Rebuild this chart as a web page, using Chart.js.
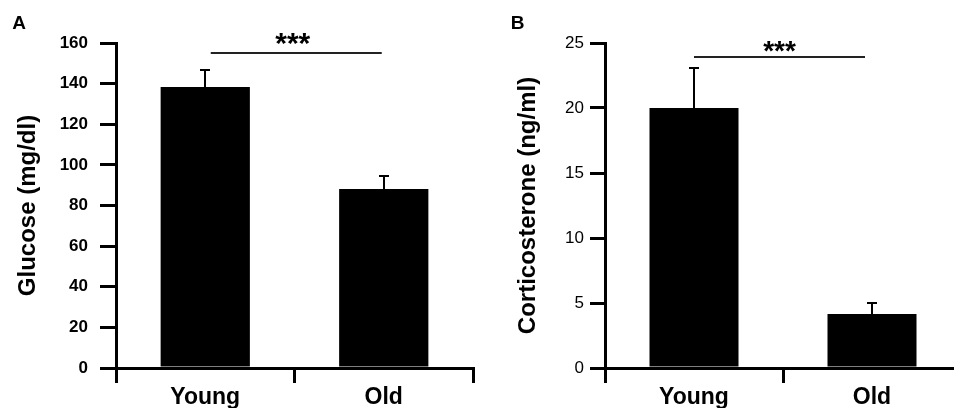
<!DOCTYPE html>
<html><head><meta charset="utf-8">
<script src="https://cdn.jsdelivr.net/npm/chart.js@4"></script>
<style>
html,body{margin:0;padding:0;background:#fff;overflow:hidden;width:954px;height:408px}
#wa{position:absolute;left:0;top:0;width:477px;height:408px;overflow:hidden}
#wb{position:absolute;left:477px;top:0;width:477px;height:408px;overflow:hidden}
canvas{display:block}
</style></head><body>
<div id="wa"><canvas id="ca" width="477" height="408"></canvas></div>
<div id="wb"><canvas id="cb" width="490" height="408"></canvas></div>
<script>
// ---- data ----
const categories = ['Young', 'Old'];
const glucoseMean = [138.4, 88.1];
const glucoseSEM = [8.5, 6.2];
const glucoseTicks = [0, 20, 40, 60, 80, 100, 120, 140, 160];
const glucoseSigLevel = 155.3;
const corticoMean = [20.0, 4.15];
const corticoSEM = [3.1, 0.85];
const corticoTicks = [0, 5, 10, 15, 20, 25];
const corticoSigLevel = 23.9;
const sigText = '***';
const glucoseTitle = 'Glucose (mg/dl)';
const corticoTitle = 'Corticosterone (ng/ml)';
const panelLabels = ['A', 'B'];

const FONT = '"Liberation Sans", Arial, Helvetica, sans-serif';
Chart.defaults.font.family = FONT;
Chart.defaults.color = '#000';

function annotPlugin(o) {
  return {
    id: 'annot',
    afterDatasetsDraw(chart) {
      const ctx = chart.ctx, xs = chart.scales.x, ys = chart.scales.y;
      ctx.save();
      ctx.strokeStyle = '#000'; ctx.lineWidth = 2; ctx.lineCap = 'butt';
      o.means.forEach((m, i) => {
        const px = Math.round(xs.getPixelForValue(i));
        const yb = ys.getPixelForValue(m), yt = Math.round(ys.getPixelForValue(m + o.errs[i]));
        ctx.beginPath();
        ctx.moveTo(px, yb); ctx.lineTo(px, yt);
        ctx.moveTo(px - o.capHalf, yt); ctx.lineTo(px + o.capHalf, yt);
        ctx.stroke();
      });
      const sy = Math.round(ys.getPixelForValue(o.sigLevel));
      const x0 = xs.getPixelForValue(0) + o.sigStart, x1 = xs.getPixelForValue(1) + o.sigEnd;
      ctx.strokeStyle = '#222';
      ctx.beginPath(); ctx.moveTo(x0, sy); ctx.lineTo(x1, sy); ctx.stroke();
      ctx.fillStyle = '#000';
      ctx.font = 'bold ' + o.starSize + 'px ' + FONT;
      ctx.textAlign = 'center'; ctx.textBaseline = 'alphabetic';
      ctx.fillText(o.sigText, (x0 + x1) / 2 + o.starDx, sy - o.starRise + 0.43 * o.starSize);
      ctx.font = 'bold 19px ' + FONT;
      ctx.fillText(o.panel, o.panelX, 28.5);
      ctx.restore();
    }
  };
}

function build(id, o) {
  return new Chart(document.getElementById(id), {
    type: 'bar',
    data: { labels: categories, datasets: [{ data: o.means, backgroundColor: '#000', borderWidth: 0, barPercentage: 0.5, categoryPercentage: 1 }] },
    options: {
      responsive: false, animation: false, devicePixelRatio: 1,
      layout: { padding: o.padding },
      plugins: { legend: { display: false }, tooltip: { enabled: false } },
      scales: {
        x: {
          type: 'category', offset: true,
          grid: { offset: true, drawOnChartArea: false, drawTicks: true, tickLength: 15, tickWidth: 3, tickColor: '#000', lineWidth: 3, color: '#000' },
          border: { display: true, color: '#000', width: 3 },
          ticks: { color: '#000', padding: 1, maxRotation: 0, font: { size: 23, weight: 'bold' } },
          afterFit: s => { s.height = 40; }
        },
        y: {
          min: o.ticks[0], max: o.ticks[o.ticks.length - 1],
          afterBuildTicks: s => { s.ticks = o.ticks.map(v => ({ value: v })); },
          grid: { drawOnChartArea: false, drawTicks: true, tickLength: o.yTick, tickWidth: 3, tickColor: '#000', lineWidth: 3, color: '#000' },
          border: { display: true, color: '#000', width: 3 },
          ticks: { color: '#000', padding: o.yPad, font: o.yFont },
          title: { display: true, text: o.title, color: '#000', font: { size: 24, weight: 'bold' }, padding: { top: o.titlePad, bottom: 0 } },
          afterFit: s => { s.width = o.yWidth; }
        }
      }
    },
    plugins: [annotPlugin(o.annot)]
  });
}

build('ca', {
  means: glucoseMean, ticks: glucoseTicks, title: glucoseTitle,
  padding: { left: 0, top: 43, right: 4, bottom: 0 },
  yWidth: 116, yTick: 16, yPad: 12, yFont: { size: 17, weight: 'bold' }, titlePad: 14,
  annot: { means: glucoseMean, errs: glucoseSEM, capHalf: 5, sigLevel: glucoseSigLevel, sigStart: 5.5, sigEnd: -2,
           sigText: sigText, starSize: 30, starDx: -3.5, starRise: 13, panel: panelLabels[0], panelX: 19 }
});
build('cb', {
  means: corticoMean, ticks: corticoTicks, title: corticoTitle,
  padding: { left: 0, top: 43, right: 6, bottom: 0 },
  yWidth: 128, yTick: 15, yPad: 6, yFont: { size: 17, weight: 'normal' }, titlePad: 37,
  annot: { means: corticoMean, errs: corticoSEM, capHalf: 5, sigLevel: corticoSigLevel, sigStart: 0, sigEnd: -7,
           sigText: sigText, starSize: 28, starDx: 0, starRise: 8.7, panel: panelLabels[1], panelX: 40.5 }
});
</script>
</body></html>
